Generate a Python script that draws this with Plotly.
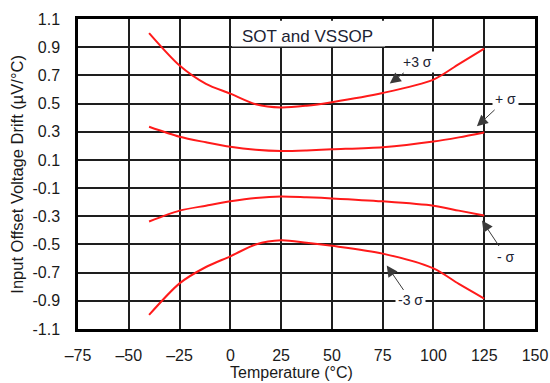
import plotly.graph_objects as go

# Temperature sweep (°C) and drift statistics (µV/°C)
temps = [-40, -25, -12, 0, 12.5, 25, 37.5, 50, 75, 100, 112.5, 125]
plus_3sigma = [1.0, 0.77, 0.64, 0.57, 0.495, 0.472, 0.485, 0.51, 0.575, 0.67, 0.78, 0.89]
plus_1sigma = [0.335, 0.264, 0.225, 0.193, 0.172, 0.163, 0.167, 0.175, 0.19, 0.23, 0.26, 0.295]
minus_1sigma = [-0.337, -0.26, -0.225, -0.194, -0.17, -0.159, -0.165, -0.173, -0.194, -0.225, -0.26, -0.295]
minus_3sigma = [-1.0, -0.776, -0.66, -0.584, -0.5, -0.471, -0.488, -0.51, -0.565, -0.67, -0.78, -0.884]

x_ticks = [-75, -50, -25, 0, 25, 50, 75, 100, 125, 150]
x_ticktext = ["\u201375", "\u201350", "\u201325", "0", "25", "50", "75", "100", "125", "150"]
y_ticks = [1.1, 0.9, 0.7, 0.5, 0.3, 0.1, -0.1, -0.3, -0.5, -0.7, -0.9, -1.1]
y_ticktext = ["1.1", "0.9", "0.7", "0.5", "0.3", "0.1", "-0.1", "-0.3", "-0.5", "-0.7", "-0.9", "-1.1"]

series = [
    ("+3 σ", plus_3sigma),
    ("+ σ", plus_1sigma),
    ("- σ", minus_1sigma),
    ("-3 σ", minus_3sigma),
]

FONT = "Liberation Sans, Arial, sans-serif"
LABEL_COLOR = "#1c2333"

fig = go.Figure()
for name, vals in series:
    fig.add_trace(go.Scatter(
        x=temps, y=vals, name=name, mode="lines",
        line=dict(color="#ff1a1a", width=2, shape="spline", smoothing=0.8),
        showlegend=False, hoverinfo="skip",
    ))

# White panel behind the package caption, hiding the grid
fig.add_shape(type="rect", xref="x", yref="y", x0=0.8, x1=76.2, y0=0.905, y1=1.088,
              fillcolor="white", line=dict(width=0), layer="above")
fig.add_annotation(x=38, y=0.975, xref="x", yref="y", text="SOT and VSSOP",
                   showarrow=False, font=dict(family=FONT, size=17, color=LABEL_COLOR))

# Curve labels with pointer arrows: (text, arrow tip x, arrow tip y, text offset x, offset y)
callouts = [
    ("+3 σ", 78.5, 0.643, 28, -21),
    ("+ σ", 121.4, 0.338, 29, -27),
    ("- σ", 123.9, -0.33, 24, 36),
    ("-3 σ", 77.0, -0.649, 24, 35),
]
for text, tx, ty, ax, ay in callouts:
    fig.add_annotation(
        x=tx, y=ty, xref="x", yref="y", text=text, ax=ax, ay=ay,
        showarrow=True, arrowhead=2, arrowsize=2.2, arrowwidth=1,
        arrowcolor="#3a3a3a", bgcolor="white", borderpad=2,
        font=dict(family=FONT, size=14, color=LABEL_COLOR),
    )

# Axis titles, placed in pixel terms relative to the plot frame
L, R, T, B = 78.5, 535, 19, 328.5
W, H = R - L, B - T
fig.add_annotation(xref="paper", yref="paper", x=(292 - L) / W, y=-(372 - B) / H,
                   text="Temperature (°C)", showarrow=False, xanchor="center", yanchor="middle",
                   font=dict(family=FONT, size=16, color="#1a1a1a"))
fig.add_annotation(xref="paper", yref="paper", x=-(L - 18) / W, y=(B - 174) / H,
                   text="Input Offset Voltage Drift (µV/°C)", showarrow=False, textangle=-90,
                   xanchor="center", yanchor="middle",
                   font=dict(family=FONT, size=16.5, color="#1a1a1a"))

fig.update_xaxes(
    range=[-75, 150], tickvals=x_ticks, ticktext=x_ticktext,
    showgrid=True, gridcolor="#1e1e1e", gridwidth=1.5,
    showline=True, linecolor="black", linewidth=2.5, mirror=True,
    ticks="", ticklabelstandoff=10, zeroline=False, automargin=False,
    tickfont=dict(family=FONT, size=16, color="#1a1a1a"),
)
fig.update_yaxes(
    range=[-1.1, 1.1], tickvals=y_ticks, ticktext=y_ticktext,
    showgrid=True, gridcolor="#1e1e1e", gridwidth=1.5,
    showline=True, linecolor="black", linewidth=2.5, mirror=True,
    ticks="", ticklabelstandoff=12, zeroline=False, automargin=False,
    tickfont=dict(family=FONT, size=16, color="#1a1a1a"),
)

fig.update_layout(
    width=550, height=383,
    margin=dict(l=78, r=15, t=19, b=54),
    paper_bgcolor="white", plot_bgcolor="white",
)

fig.write_html("out.html")
